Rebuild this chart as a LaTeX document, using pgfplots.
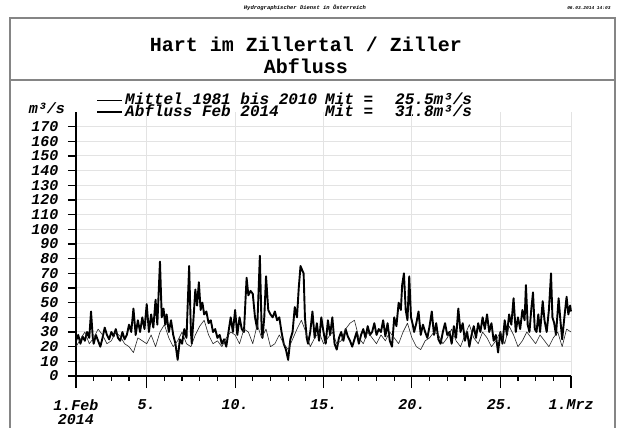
\documentclass[border=0pt]{standalone}
\usepackage{fontspec}
\setmainfont{Liberation Mono}
\usepackage{pgfplots}
\pgfplotsset{compat=1.18}
\definecolor{gridgray}{HTML}{E3E3E3}
\definecolor{framegray}{HTML}{858585}
\begin{document}
\begin{tikzpicture}[x=1pt,y=1pt]
\useasboundingbox (0pt,0pt) rectangle (621pt,428pt);
\fill[white] (0pt,0pt) rectangle (621pt,428pt);
% frame
\draw[framegray,line width=2pt] (10pt,-5pt) -- (10pt,410pt) -- (615pt,410pt) -- (615pt,-5pt);
\draw[framegray,line width=1.6pt] (10pt,348pt) -- (615pt,348pt);
% header
\node[font=\fontsize{5.5}{6}\selectfont\bfseries\itshape] at (305pt,420pt) {Hydrographischer Dienst in Österreich};
\node[anchor=east,font=\fontsize{4.5}{5}\selectfont\bfseries\itshape] at (614pt,420pt) {06.03.2014 14:03};
% titles
\node[font=\fontsize{20}{20}\selectfont\bfseries] at (306pt,384pt) {Hart im Zillertal / Ziller};
\node[font=\fontsize{20}{20}\selectfont\bfseries] at (306pt,362pt) {Abfluss};
% legend
\draw[black,line width=0.6pt] (97pt,328pt) -- (122pt,328pt);
\draw[black,line width=2pt] (97pt,316pt) -- (122pt,316pt);
\node[anchor=base west,inner sep=0pt,font=\fontsize{16}{16}\selectfont\bfseries\itshape] at (125pt,323pt) {Mittel 1981 bis 2010};
\node[anchor=base west,inner sep=0pt,font=\fontsize{16}{16}\selectfont\bfseries\itshape] at (125pt,311pt) {Abfluss Feb 2014};
\node[anchor=base west,inner sep=0pt,font=\fontsize{16}{16}\selectfont\bfseries\itshape] at (325pt,323pt) {Mit =};
\node[anchor=base west,inner sep=0pt,font=\fontsize{16}{16}\selectfont\bfseries\itshape] at (325pt,311pt) {Mit =};
\node[anchor=base west,inner sep=0pt,font=\fontsize{16}{16}\selectfont\bfseries\itshape] at (395pt,323pt) {25.5m³/s};
\node[anchor=base west,inner sep=0pt,font=\fontsize{16}{16}\selectfont\bfseries\itshape] at (395pt,311pt) {31.8m³/s};
\node[font=\fontsize{15}{15}\selectfont\bfseries\itshape] at (47pt,320pt) {m³/s};
\begin{axis}[
  at={(76pt,52pt)}, anchor=origin,
  scale only axis, width=495pt, height=264pt,
  xmin=0, xmax=28, ymin=0, ymax=180,
  axis x line*=bottom, axis y line*=left,
  axis line style={black,line width=1.5pt,-},
  xtick={0,4,9,14,19,24,28},
  xticklabels={{1.Feb\\2014},5.,10.,15.,20.,25.,1.Mrz},
  minor xtick={1,2,3,5,6,7,8,10,11,12,13,15,16,17,18,20,21,22,23,25,26,27},
  ytick={0,10,...,170},
  tick align=outside,
  major tick length=12pt, minor tick length=5pt,
  tick style={black,line width=1.2pt},
  ytick style={/pgfplots/major tick length=8pt},
  xmajorgrids, ymajorgrids,
  major grid style={gridgray,line width=1pt},
  /pgf/number format/assume math mode=true,
  ticklabel style={font=\fontsize{15}{14}\selectfont\bfseries\itshape},
  xticklabel style={align=center,yshift=-8pt},
  yticklabel style={xshift=-2pt},
  clip=false,
]
\draw[gridgray,line width=1pt] (axis cs:28,0) -- (axis cs:28,180);
\addplot[black,line width=1.9pt,line join=round] coordinates {
(0.000,24)(0.125,28)(0.250,22)(0.375,27)(0.500,24)(0.625,30)(0.750,26)(0.850,44)(0.950,26)
(1.000,22)(1.125,28)(1.250,24)(1.375,20)(1.500,26)(1.625,33)(1.750,28)(1.875,25)
(2.000,30)(2.125,27)(2.250,32)(2.375,26)(2.500,24)(2.625,30)(2.750,25)(2.875,28)
(3.000,35)(3.125,30)(3.250,46)(3.375,28)(3.500,38)(3.625,30)(3.750,40)(3.875,32)
(4.000,49)(4.125,30)(4.250,42)(4.375,33)(4.500,52)(4.600,35)(4.750,78)(4.850,40)(4.950,46)
(5.050,35)(5.125,42)(5.250,30)(5.375,38)(5.500,28)(5.625,22)(5.750,11)(5.875,25)
(6.000,22)(6.125,32)(6.250,26)(6.400,75)(6.500,30)(6.550,22)(6.650,40)(6.750,59)(6.850,48)(6.950,64)
(7.050,45)(7.150,50)(7.250,42)(7.375,44)(7.500,36)(7.625,38)(7.750,30)(7.875,32)
(8.000,26)(8.125,28)(8.250,22)(8.375,25)(8.500,20)(8.625,30)(8.750,40)(8.875,30)
(9.000,45)(9.125,28)(9.250,40)(9.375,32)(9.500,30)(9.650,67)(9.750,55)(9.875,58)
(10.000,56)(10.125,40)(10.250,32)(10.400,82)(10.500,32)(10.550,26)(10.650,40)(10.750,68)(10.875,45)
(11.000,42)(11.125,40)(11.250,44)(11.375,38)(11.500,40)(11.625,30)(11.750,22)(11.875,18)
(12.000,11)(12.125,25)(12.250,30)(12.375,47)(12.500,40)(12.600,60)(12.700,75)(12.800,72)(12.875,70)(12.950,40)
(13.050,26)(13.125,22)(13.250,30)(13.375,44)(13.500,26)(13.625,36)(13.750,24)(13.875,40)
(14.000,30)(14.125,22)(14.250,38)(14.375,28)(14.500,40)(14.625,22)(14.750,18)(14.875,26)
(15.000,30)(15.125,24)(15.250,32)(15.375,27)(15.500,24)(15.625,20)(15.750,25)(15.875,30)
(16.000,22)(16.125,28)(16.250,32)(16.375,26)(16.500,34)(16.625,28)(16.750,30)(16.875,36)
(17.000,28)(17.125,32)(17.250,30)(17.375,38)(17.500,27)(17.625,36)(17.750,24)(17.875,20)
(18.000,40)(18.125,34)(18.250,50)(18.375,45)(18.450,62)(18.550,70)(18.650,45)(18.750,38)(18.850,68)(18.950,40)
(19.050,35)(19.125,30)(19.250,36)(19.375,44)(19.500,28)(19.625,35)(19.750,30)(19.875,26)
(20.000,34)(20.125,44)(20.250,28)(20.375,36)(20.500,25)(20.625,22)(20.750,30)(20.875,36)
(21.000,28)(21.125,30)(21.250,22)(21.375,34)(21.500,26)(21.625,46)(21.750,30)(21.875,36)
(22.000,24)(22.125,30)(22.250,20)(22.375,28)(22.500,34)(22.625,26)(22.750,36)(22.875,30)
(23.000,40)(23.125,32)(23.250,42)(23.375,30)(23.500,36)(23.625,24)(23.750,28)(23.875,16)
(24.000,30)(24.125,22)(24.250,38)(24.375,28)(24.500,42)(24.625,35)(24.750,53)(24.875,30)
(25.000,40)(25.125,32)(25.250,45)(25.375,38)(25.450,62)(25.550,35)(25.650,30)(25.750,45)(25.850,57)(25.950,32)
(26.050,30)(26.150,42)(26.250,30)(26.400,51)(26.500,38)(26.625,30)(26.750,45)(26.870,70)(26.950,40)
(27.050,36)(27.150,28)(27.300,53)(27.400,38)(27.500,25)(27.625,40)(27.750,54)(27.850,42)(27.950,48)(28.000,44)
};
\addplot[black!85,line width=0.6pt,line join=round] coordinates {
(0.00,20)(0.25,25)(0.50,30)(0.75,22)(1.00,26)(1.25,32)(1.50,28)(1.75,22)(2.00,24)(2.25,30)(2.50,27)(2.75,22)
(3.00,20)(3.25,16)(3.50,26)(3.75,24)(4.00,22)(4.25,28)(4.50,20)(4.75,30)(5.00,35)(5.25,26)(5.50,20)(5.75,24)
(6.00,30)(6.25,22)(6.50,20)(6.75,28)(7.00,34)(7.25,38)(7.50,28)(7.75,22)(8.00,24)(8.25,20)(8.50,26)(8.75,30)
(9.00,28)(9.25,22)(9.50,32)(9.75,30)(10.00,22)(10.25,35)(10.50,26)(10.75,32)(11.00,20)(11.25,22)(11.50,28)(11.75,22)
(12.00,18)(12.25,25)(12.50,32)(12.75,38)(13.00,30)(13.25,20)(13.50,26)(13.75,30)(14.00,22)(14.25,26)(14.50,30)(14.75,22)
(15.00,24)(15.25,32)(15.50,36)(15.75,38)(16.00,26)(16.25,22)(16.50,30)(16.75,26)(17.00,22)(17.25,28)(17.50,24)(17.75,30)
(18.00,26)(18.25,22)(18.50,30)(18.75,36)(19.00,26)(19.25,20)(19.50,18)(19.75,24)(20.00,26)(20.25,30)(20.50,28)(20.75,22)
(21.00,26)(21.25,32)(21.50,24)(21.75,20)(22.00,28)(22.25,35)(22.50,26)(22.75,22)(23.00,30)(23.25,26)(23.50,20)(23.75,24)
(24.00,30)(24.25,22)(24.50,34)(24.75,28)(25.00,20)(25.25,24)(25.50,30)(25.75,26)(26.00,22)(26.25,28)(26.50,24)(26.75,20)
(27.00,26)(27.25,30)(27.50,20)(27.75,32)(28.00,30)
};
\end{axis}
\end{tikzpicture}
\end{document}
